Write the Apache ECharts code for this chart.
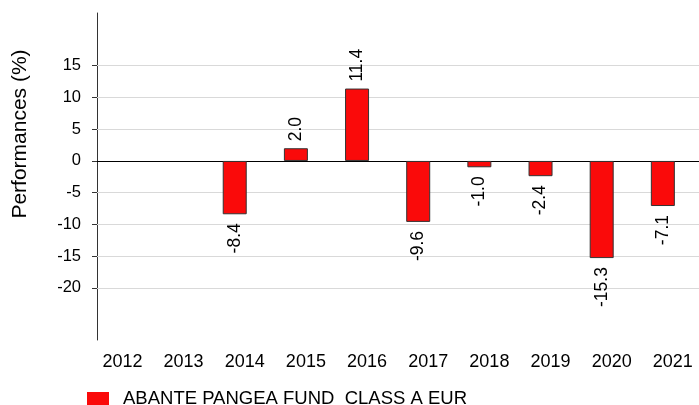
<!DOCTYPE html>
<html>
<head>
<meta charset="utf-8">
<script src="https://cdn.jsdelivr.net/npm/echarts@6/dist/echarts.min.js"></script>
<style>
html,body{margin:0;padding:0;background:#fff;}
#chart{width:699px;height:405px;}
</style>
</head>
<body>
<div id="chart"></div>
<script>
const years = [2012, 2013, 2014, 2015, 2016, 2017, 2018, 2019, 2020, 2021];
const performance = [null, null, -8.4, 2.0, 11.4, -9.6, -1.0, -2.4, -15.3, -7.1];
const yTicks = [-20, -15, -10, -5, 0, 5, 10, 15];
const seriesName = 'ABANTE PANGEA FUND  CLASS A EUR';
const axisTitle = 'Performances (%)';

const FONT = "'Liberation Sans', Arial, sans-serif";

const barData = years.map((y, i) => {
  const v = performance[i];
  if (v === null) return [y, null];
  const neg = v < 0;
  return {
    value: [y, v],
    label: neg
      ? { position: 'bottom', align: 'right', distance: 9 }
      : { position: 'top', align: 'left', distance: 7 }
  };
});

const gridLines = yTicks.map(t => ({
  yAxis: t,
  lineStyle: t === 0
    ? { color: '#000', width: 1, type: 'solid' }
    : { color: '#d9d9d9', width: 1, type: 'solid' }
}));

const chart = echarts.init(document.getElementById('chart'), null, { renderer: 'canvas' });
chart.setOption({
  animation: false,
  backgroundColor: '#fff',
  textStyle: { fontFamily: FONT },
  grid: { left: 97, right: 0, top: 13, bottom: 65, containLabel: false },
  xAxis: {
    type: 'value',
    min: 2011.748,
    max: 2021.591,
    splitLine: { show: false },
    axisLine: { show: false },
    axisTick: { show: false },
    axisLabel: {
      customValues: years,
      formatter: v => String(v),
      color: '#000',
      fontSize: 18,
      fontFamily: FONT,
      margin: 13,
      padding: [0, 0, 0, 20]
    }
  },
  yAxis: {
    type: 'value',
    min: -28.2,
    max: 23.3,
    splitLine: { show: false },
    axisLine: { show: true, lineStyle: { color: '#333', width: 1 } },
    axisTick: { show: true, customValues: yTicks, length: 5, lineStyle: { color: '#333' } },
    axisLabel: {
      customValues: yTicks,
      color: '#000',
      fontSize: 16.5,
      fontFamily: FONT,
      margin: 16
    }
  },
  legend: {
    left: 82,
    top: 384,
    itemWidth: 22,
    itemHeight: 13,
    icon: 'rect',
    data: [seriesName],
    itemStyle: { borderWidth: 0 },
    textStyle: { color: '#000', fontSize: 18.5, fontFamily: FONT, padding: [0, 0, 0, 9] }
  },
  graphic: [{
    type: 'text',
    x: 20,
    y: 134,
    rotation: Math.PI / 2,
    style: {
      text: axisTitle,
      fill: '#000',
      font: '21px ' + FONT,
      textAlign: 'center',
      textVerticalAlign: 'middle'
    }
  }],
  series: [{
    name: seriesName,
    type: 'bar',
    barWidth: 24,
    data: barData,
    itemStyle: { color: '#fa0a0a', borderColor: '#333', borderWidth: 1 },
    label: {
      show: true,
      rotate: 90,
      verticalAlign: 'middle',
      color: '#000',
      fontSize: 17.5,
      fontFamily: FONT,
      formatter: p => p.value[1].toFixed(1)
    },
    markLine: {
      silent: true,
      z: 1,
      symbol: ['none', 'none'],
      label: { show: false },
      emphasis: { disabled: true },
      data: gridLines
    }
  }]
});
</script>
</body>
</html>
